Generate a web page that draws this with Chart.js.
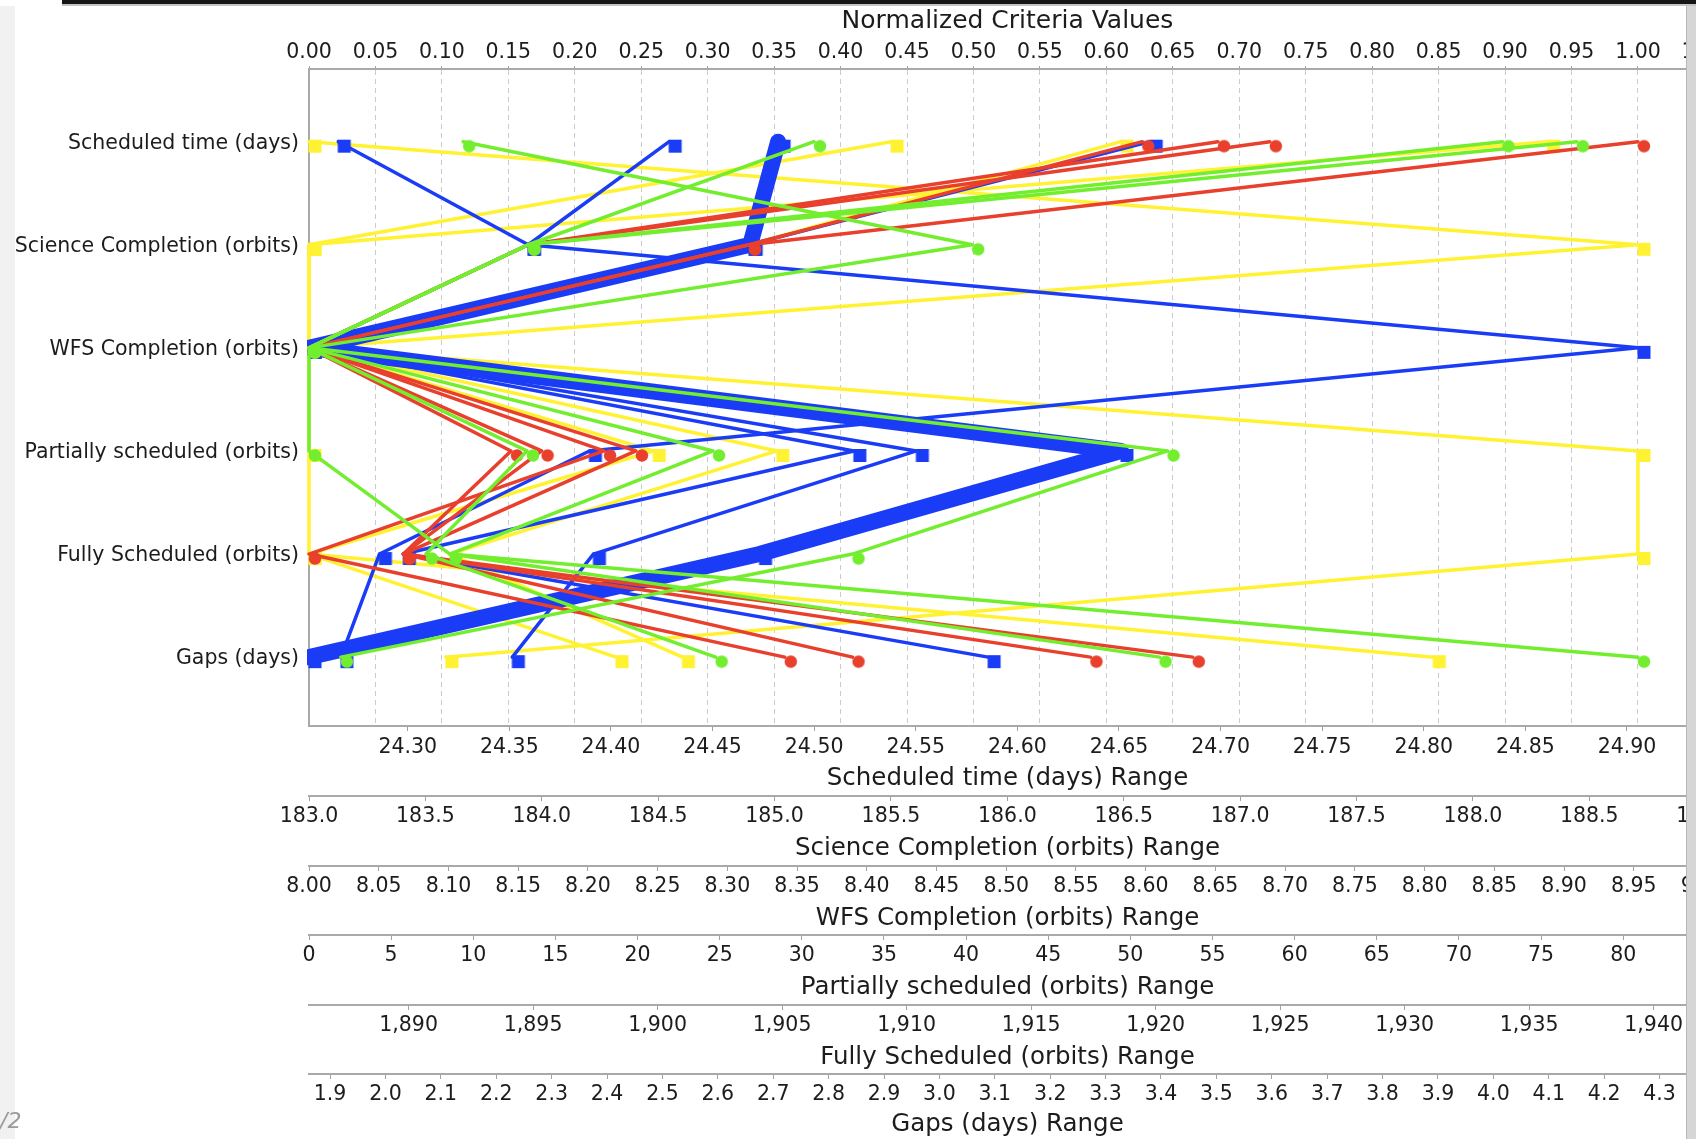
<!DOCTYPE html>
<html>
<head>
<meta charset="utf-8">
<title>Normalized Criteria Values</title>
<script src="https://cdn.jsdelivr.net/npm/chart.js@4.4.1/dist/chart.umd.min.js"></script>
<style>
  html, body { margin: 0; padding: 0; background: #fff; }
  body { position: relative; width: 1696px; height: 1139px; overflow: hidden; }
  #wrap { position: absolute; left: 15px; top: 0; width: 1900px; height: 1139px; }
  #margin { position: absolute; left: 0; top: 6px; width: 15px; height: 1133px; background: #f1f1f1; }
  #topbar { position: absolute; left: 62px; top: 0; right: 0; height: 4px; background: #151515; }
  #topshade { position: absolute; left: 62px; top: 4px; right: 0; height: 2px; background: #c4c4c4; }
  #rightedge { position: absolute; left: 1686px; top: 6px; width: 10px; bottom: 0; background: #d6d6d6; border-left: 1px solid #b8b8b8; }
  #stray { position: absolute; left: 0; top: 1108px; font: italic 22px 'DejaVu Sans', sans-serif; color: #9a9a9a; }
</style>
</head>
<body>
<div id="margin"></div>
<div id="wrap"><canvas id="chart" width="1691" height="1139"></canvas></div>
<div id="topbar"></div>
<div id="topshade"></div>
<div id="rightedge"></div>
<div id="stray">/2</div>
<script>
// criteria, top to bottom
const criteria = [
    'Scheduled time (days)',
    'Science Completion (orbits)',
    'WFS Completion (orbits)',
    'Partially scheduled (orbits)',
    'Fully Scheduled (orbits)',
    'Gaps (days)'
];

// normalized values of each solution, one entry per criterion
const blueThick = [0.353, 0.332, 0, 0.611, 0.339, 0];
const blueRuns = [
    [0.022, 0.165, 1.0, 0.211, 0.053, 0.024],
    [0.271, 0.165, 0, 0.410, 0.071, 0.511],
    [0.633, 0.331, 0, 0.457, 0.214, 0.153]
];
const redRuns = [
    [0.627, 0.331, 0, 0.222, 0, 0.358],
    [0.684, 0.165, 0, 0.152, 0.071, 0.409],
    [0.723, 0.165, 0, 0.175, 0.071, 0.588],
    [1.0, 0.331, 0, 0.246, 0.071, 0.665]
];
const greenRuns = [
    [0.116, 0.499, 0, 0, 0.106, 1.0],
    [0.380, 0.165, 0, 0.164, 0.088, 0.306],
    [0.898, 0.165, 0, 0.304, 0.106, 0.640],
    [0.954, 0.165, 0, 0.646, 0.409, 0.024]
];
const yellowRuns = [
    [0, 1.0, 0, 0, 0, 0.231],
    [0.438, 0, 0, 0.259, 0, 0.846],
    [0.611, 0.331, 0, 0.352, 0.106, 0.281],
    [0.932, 0, 0, 1.0, 1.0, 0.103]
];

// normalized axis ticks
const normStep = 0.05;
const normMax = 1.0512;

// range axes under the plot: value at normalized 0 and 1, tick labels
const rangeTitles = criteria.map(c => c + ' Range');
const rangeLow = [24.2514, 183.0, 8.0, 0, 1886.0, 1.862];
const rangeHigh = [24.9054, 188.709, 8.953, 80.9, 1939.37, 4.261];
const rangeFirstTick = [24.30, 183.0, 8.00, 0, 1890, 1.9];
const rangeStep = [0.05, 0.5, 0.05, 5, 5, 0.1];
const rangeDigits = [2, 1, 2, 0, 0, 1];
const rangeThousands = [false, false, false, false, true, false];

// layout
const AXIS_HEIGHTS = [70, 70, 69, 70, 69, 65];
const TOP_HEIGHT = 69;
const LEFT_WIDTH = 294;
const PLOT_RIGHT = 1691;   // canvas x of the right end of the plot
const FONT = 'DejaVu Sans';
const TEXT = '#1c1c1c';
const AXIS_LINE = '#a9a9a9';
const THIN = 3.5;
const THICK = 16;

const COLORS = {
    blue: '#1a3cf6',
    red: '#e8402c',
    green: '#72ee2e',
    yellow: '#fff233'
};

const markerCache = {};
function marker(shape, color) {
    const key = shape + color;
    if (markerCache[key]) return markerCache[key];
    const c = document.createElement('canvas');
    c.width = 40;
    c.height = 40;
    const g = c.getContext('2d');
    g.fillStyle = color;
    // shapes sit a little right of and below the line vertex
    const cx = 20 + 6, cy = 20 + 4.5;
    if (shape === 'square') {
        g.fillRect(cx - 6.5, cy - 6.5, 13, 13);
    } else {
        g.beginPath();
        g.arc(cx, cy, 6.2, 0, Math.PI * 2);
        g.fill();
    }
    markerCache[key] = c;
    return c;
}

function runDataset(values, color, shape, width, order) {
    return {
        data: values.map((v, i) => ({ x: v, y: i })),
        showLine: true,
        borderColor: color,
        backgroundColor: color,
        borderWidth: width,
        borderCapStyle: 'round',
        borderJoinStyle: 'round',
        tension: 0,
        pointStyle: marker(shape, color),
        pointRadius: 6,
        pointHoverRadius: 6,
        order: order,
        clip: { left: 2, top: 14, right: 14, bottom: 14 },
        xAxisID: 'x',
        yAxisID: 'y'
    };
}

function stepTicks(first, step, max) {
    const ticks = [];
    for (let i = 0; ; i++) {
        const v = +(first + i * step).toFixed(6);
        if (v > max + 1e-6) break;
        ticks.push({ value: v });
    }
    return ticks;
}

function withCommas(s) {
    return s.replace(/\B(?=(\d{3})+(?!\d))/g, ',');
}

function buildDatasets() {
    const datasets = [];
    yellowRuns.forEach(r => datasets.push(runDataset(r, COLORS.yellow, 'square', THIN, 4)));
    datasets.push(runDataset(blueThick, COLORS.blue, 'square', THICK, 3));
    blueRuns.forEach(r => datasets.push(runDataset(r, COLORS.blue, 'square', THIN, 2)));
    redRuns.forEach(r => datasets.push(runDataset(r, COLORS.red, 'circle', THIN, 1)));
    greenRuns.forEach(r => datasets.push(runDataset(r, COLORS.green, 'circle', THIN, 0)));
    return datasets;
}

function buildScales() {
    const scales = {
        x: {
            type: 'linear',
            position: 'top',
            min: 0,
            max: normMax,
            afterBuildTicks: s => { s.ticks = stepTicks(0, normStep, s.max); },
            afterFit: s => { s.height = TOP_HEIGHT; s.paddingLeft = 0; s.paddingRight = 0; },
            ticks: {
                color: TEXT,
                font: { size: 20.5 },
                padding: 1,
                maxRotation: 0,
                autoSkip: false,
                callback: v => v.toFixed(2)
            },
            grid: {
                color: ctx => (ctx.tick && ctx.tick.value === 0 ? 'rgba(0,0,0,0)' : '#cbcbcb'),
                lineWidth: 1,
                drawTicks: true,
                tickLength: 3,
                tickColor: '#a0a0a0'
            },
            border: { display: true, color: AXIS_LINE, width: 2, dash: [5, 4] },
            title: {
                display: true,
                text: 'Normalized Criteria Values',
                color: TEXT,
                font: { size: 25 },
                padding: { top: 6, bottom: 0 }
            }
        },
        y: {
            type: 'linear',
            position: 'left',
            reverse: true,
            min: -0.705,
            max: 5.668,
            afterBuildTicks: s => { s.ticks = criteria.map((c, i) => ({ value: i })); },
            afterFit: s => { s.width = LEFT_WIDTH; s.paddingTop = 0; s.paddingBottom = 0; },
            ticks: {
                color: TEXT,
                font: { size: 20.5 },
                padding: 10,
                labelOffset: 2,
                autoSkip: false,
                callback: v => criteria[v]
            },
            grid: { display: false, drawTicks: false },
            border: { display: true, color: AXIS_LINE, width: 2 }
        }
    };

    rangeTitles.forEach((title, k) => {
        const span = rangeHigh[k] - rangeLow[k];
        const h = AXIS_HEIGHTS[k];
        scales['x' + (k + 1)] = {
            type: 'linear',
            axis: 'x',
            position: 'bottom',
            weight: k + 1,
            min: rangeLow[k],
            max: rangeLow[k] + normMax * span,
            afterBuildTicks: s => { s.ticks = stepTicks(rangeFirstTick[k], rangeStep[k], s.max); },
            afterFit: s => { s.height = h; s.paddingLeft = 0; s.paddingRight = 0; },
            ticks: {
                color: TEXT,
                font: { size: 20.5 },
                padding: k === 0 ? 4 : 3,
                maxRotation: 0,
                autoSkip: false,
                callback: v => {
                    const s = v.toFixed(rangeDigits[k]);
                    return rangeThousands[k] ? withCommas(s) : s;
                }
            },
            grid: {
                drawOnChartArea: false,
                drawTicks: true,
                tickLength: 5,
                tickColor: '#a0a0a0',
                color: '#a0a0a0'
            },
            border: { display: true, color: AXIS_LINE, width: 2 },
            title: {
                display: true,
                text: title,
                color: TEXT,
                font: { size: 24.5 },
                padding: { top: 0, bottom: Math.max(0, h - 14.7 - 52.5) }
            }
        };
    });
    return scales;
}

Chart.defaults.font.family = FONT;
Chart.defaults.color = TEXT;

const canvas = document.getElementById('chart');

function buildChart(width) {
    canvas.width = width;
    canvas.height = 1139;
    canvas.style.width = width + 'px';
    canvas.style.height = '1139px';
    return new Chart(canvas.getContext('2d'), {
        type: 'scatter',
        data: { datasets: buildDatasets() },
        options: {
            responsive: false,
            animation: false,
            devicePixelRatio: 1,
            layout: { padding: 0 },
            plugins: {
                legend: { display: false },
                tooltip: { enabled: false }
            },
            scales: buildScales()
        }
    });
}

let chart = buildChart(PLOT_RIGHT);
// the library keeps room for the last tick label on the right; widen the canvas by that much
const shortBy = PLOT_RIGHT - chart.chartArea.right;
if (shortBy > 0.5) {
    const w = Math.round(PLOT_RIGHT + shortBy);
    chart.destroy();
    chart = buildChart(w);
}
</script>
</body>
</html>
